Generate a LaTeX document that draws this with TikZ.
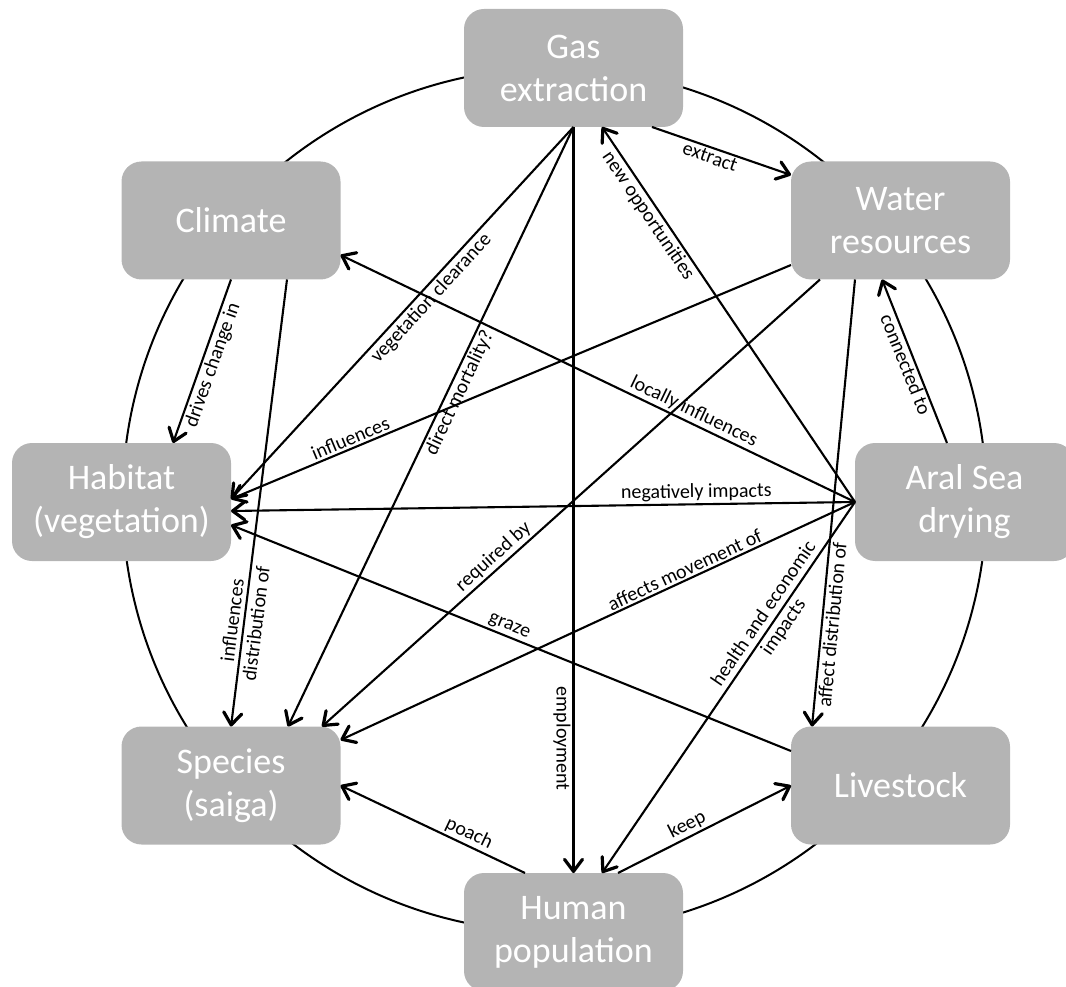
\documentclass[tikz,border=0pt]{standalone}
\usepackage{fontspec}
\setmainfont{Carlito}
\usetikzlibrary{arrows.meta}
\definecolor{boxgray}{RGB}{180,180,180}
\begin{document}
\begin{tikzpicture}[x=1pt,y=-1pt,
  box/.style={rounded corners=20pt, fill=boxgray, draw=none, text=white,
    minimum width=219pt, minimum height=118pt, inner sep=0pt, outer sep=0pt,
    align=center, font=\fontsize{36}{43}\selectfont},
  link/.style={line width=2.1pt, -{Straight Barb[length=12pt,width=18pt,line width=3.2pt,round]}},
  lbl/.style={font=\fontsize{20}{24}\selectfont, text=black, inner sep=2pt, sloped},
  ring/.style={line width=2pt}]
\useasboundingbox (0,0) rectangle (1066,987);
\coordinate (c) at (554.5,500);
\draw[ring] (c) circle[radius=432pt];

\node[box] (gas) at (573.5,68) {Gas\\extraction};
\node[box] (water) at (900.5,220.5) {Water\\resources};
\node[box] (climate) at (231,220.5) {Climate};
\node[box] (habitat) at (121.5,502) {Habitat\\(vegetation)};
\node[box] (aral) at (964.5,502) {Aral Sea\\drying};
\node[box] (species) at (231,785.5) {Species\\(saiga)};
\node[box] (livestock) at (900.5,785.5) {Livestock};
\node[box] (human) at (573.5,932) {Human\\population};

% Gas extraction
\draw[link] ([xshift=78.5pt]gas.south) -- node[lbl,below,pos=0.44] (l1) {extract} ([yshift=45.5pt]water.west);
\draw[link] (gas.south) -- node[lbl,below,pos=0.44] (l2) {vegetation clearance} ([yshift=3pt]habitat.east);
\draw[link] (gas.south) -- node[lbl,below,pos=0.435] (l3) {direct mortality?} ([xshift=57pt]species.north);
\draw[link] (gas.south) -- node[lbl,below,pos=0.82] (l4) {employment} (human.north);

% Climate
\draw[link] (climate.south) -- node[lbl,below,pos=0.5] (l5) {drives change in} ([xshift=51.5pt]habitat.north);
\draw[link] ([xshift=56pt]climate.south) -- node[lbl,pos=0.766,align=center] (l6) {influences\\distribution of} (species.north);

% Water resources
\draw[link] ([yshift=-44.5pt]water.west) -- node[lbl,above,pos=0.78] (l7) {influences} ([yshift=3pt]habitat.east);
\draw[link] ([xshift=-80.5pt]water.south) -- node[lbl,above,pos=0.64] (l8) {required by} ([xshift=91pt]species.north);
\draw[link] ([xshift=-45.5pt]water.south) -- node[lbl,below,pos=0.77] (l9) {affect distribution of} ([xshift=-88.5pt]livestock.north);

% Aral Sea drying
\draw[link] ([xshift=-17.5pt]aral.north) -- node[lbl,below,pos=0.5,inner sep=1pt] (l10) {connected to} ([xshift=-18.5pt]water.south);
\draw[link] (aral.west) -- node[lbl,below,pos=0.78] (l11) {new opportunities} ([xshift=28.5pt]gas.south);
\draw[link] (aral.west) -- node[lbl,above,pos=0.323] (l12) {locally influences} ([yshift=-34.5pt]climate.east);
\draw[link] (aral.west) -- node[lbl,above,pos=0.254] (l13) {negatively impacts} ([yshift=-9pt]habitat.east);
\draw[link] (aral.west) -- node[lbl,above,pos=0.323] (l14) {affects movement of} ([yshift=45.5pt]species.east);
\draw[link] (aral.west) -- node[lbl,pos=0.32,align=center] (l15) {health and economic\\impacts} ([xshift=28.5pt]human.north);

% Livestock
\draw[link] ([yshift=34.5pt]livestock.west) -- node[lbl,above,pos=0.51] (l16) {graze} ([yshift=-23pt]habitat.east);

% Human population
\draw[link] ([xshift=-48.5pt]human.north) -- node[lbl,above,pos=0.33] (l17) {poach} (species.east);
\draw[link] ([xshift=44.5pt]human.north) -- node[lbl,above,pos=0.43] (l18) {keep} (livestock.west);
\end{tikzpicture}
\end{document}
